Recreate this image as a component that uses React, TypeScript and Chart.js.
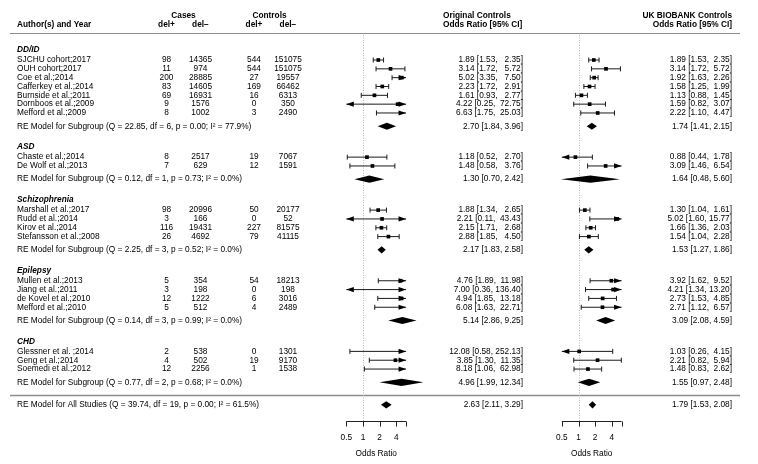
import React, { useEffect, useRef } from 'react';
import { Chart, registerables } from 'chart.js';

Chart.register(...registerables);

// ---------------- DATA ----------------
const groupNames = ['DD/ID', 'ASD', 'Schizophrenia', 'Epilepsy', 'CHD'];
const groupSizes = [7, 2, 4, 4, 3];

const studyNames = [
  'SJCHU cohort;2017', 'OUH cohort;2017', 'Coe et al.;2014', 'Cafferkey et al.;2014',
  'Burnside et al.;2011', 'Dornboos et al.;2009', 'Mefford et al.;2009',
  'Chaste et al.;2014', 'De Wolf et al.;2013',
  'Marshall et al.;2017', 'Rudd et al.;2014', 'Kirov et al.;2014', 'Stefansson et al.;2008',
  'Mullen et al.;2013', 'Jiang et al.;2011', 'de Kovel et al.;2010', 'Mefford et al.;2010',
  'Glessner et al. ;2014', 'Geng et al.;2014', 'Soemedi et al.;2012',
];
const casesPos = [98, 11, 200, 83, 69, 9, 8, 8, 7, 98, 3, 116, 26, 5, 3, 12, 5, 2, 4, 12];
const casesNeg = [14365, 974, 28885, 14605, 16931, 1576, 1002, 2517, 629, 20996, 166, 19431, 4692, 354, 198, 1222, 512, 538, 502, 2256];
const ctrlPos = [544, 544, 27, 169, 16, 0, 3, 19, 12, 50, 0, 227, 79, 54, 0, 6, 4, 0, 19, 1];
const ctrlNeg = [151075, 151075, 19557, 66462, 6313, 350, 2490, 7067, 1591, 20177, 52, 81575, 41115, 18213, 198, 3016, 2489, 1301, 9170, 1538];

const origOR = [1.89, 3.14, 5.02, 2.23, 1.61, 4.22, 6.63, 1.18, 1.48, 1.88, 2.21, 2.15, 2.88, 4.76, 7.0, 4.94, 6.08, 12.08, 3.85, 8.18];
const origLo = [1.53, 1.72, 3.35, 1.72, 0.93, 0.25, 1.75, 0.52, 0.58, 1.34, 0.11, 1.71, 1.85, 1.89, 0.36, 1.85, 1.63, 0.58, 1.3, 1.06];
const origHi = [2.35, 5.72, 7.5, 2.91, 2.77, 72.75, 25.03, 2.7, 3.76, 2.65, 43.43, 2.68, 4.5, 11.98, 136.4, 13.18, 22.71, 252.13, 11.35, 62.98];

const ukOR = [1.89, 3.14, 1.92, 1.58, 1.13, 1.59, 2.22, 0.88, 3.09, 1.3, 5.02, 1.66, 1.54, 3.92, 4.21, 2.73, 2.71, 1.03, 2.21, 1.48];
const ukLo = [1.53, 1.72, 1.63, 1.25, 0.88, 0.82, 1.1, 0.44, 1.46, 1.04, 1.6, 1.36, 1.04, 1.62, 1.34, 1.53, 1.12, 0.26, 0.82, 0.83];
const ukHi = [2.35, 5.72, 2.26, 1.99, 1.45, 3.07, 4.47, 1.78, 6.54, 1.61, 15.77, 2.03, 2.28, 9.52, 13.2, 4.85, 6.57, 4.15, 5.94, 2.62];

const origSubOR = [2.7, 1.3, 2.17, 5.14, 4.96];
const origSubLo = [1.84, 0.7, 1.83, 2.86, 1.99];
const origSubHi = [3.96, 2.42, 2.58, 9.25, 12.34];
const ukSubOR = [1.74, 1.64, 1.53, 3.09, 1.55];
const ukSubLo = [1.41, 0.48, 1.27, 2.08, 0.97];
const ukSubHi = [2.15, 5.6, 1.86, 4.59, 2.48];

const subQ = ['22.85', '0.12', '2.25', '0.14', '0.77'];
const subDf = ['6', '1', '3', '3', '2'];
const subP = ['0.00', '0.73', '0.52', '0.99', '0.68'];
const subI2 = ['77.9', '0.0', '0.0', '0.0', '0.0'];

const allOrig = [2.63, 2.11, 3.29];
const allUK = [1.79, 1.53, 2.08];
const allHet = ['39.74', '19', '0.00', '61.5'];

const axisTicks = [0.5, 1, 2, 4, 6];
const axisTickLabels = ['0.5', '1', '2', '4', ''];
const axisLimits = [0.5, 6];

// ---------------- LAYOUT ----------------
const W = 758;
const H = 464;
const L = {
  rowY0: 60,
  rowH: 8.83,
  nameX: 17,
  casesTitleX: 183.5,
  casePosX: 166.5,
  caseNegX: 200.5,
  ctrlTitleX: 269.5,
  ctrlPosX: 254,
  ctrlNegX: 288,
  origHeadLeft: 443,
  origTextRight: 523,
  ukTextRight: 732,
  lineX0: 10,
  lineX1: 740,
  head1Px: 15.5,
  head2Px: 24.5,
  topLinePx: 33.5,
  dotTopPx: 35,
  axisPx: 421,
  tickLen: 5,
  tickLabelPx: 437.5,
  axisTitlePx: 453.5,
  pxPerDoubling: 16.67,
  panelOne: [363, 578.5],
  whisker: 2.5,
  arrowLen: 7.5,
  arrowHalf: 2.6,
  diamondHalf: 3.6,
};
const FONT = '"Liberation Sans", Arial, Helvetica, sans-serif';
const FS = 8.3;

const rowOfPx = (px: number) => (px - L.rowY0) / L.rowH;

// rows
const groupStart: number[] = [];
{
  let s = 0;
  groupSizes.forEach((n) => {
    groupStart.push(s);
    s += n + 4;
  });
}
const studyRow: number[] = [];
groupSizes.forEach((n, g) => {
  for (let i = 0; i < n; i++) studyRow.push(groupStart[g] + i);
});
const subRow = groupSizes.map((n, g) => groupStart[g] + n + 0.5);
const headRow = groupStart.map((s) => s - 1.15);
const allLineRow = subRow[subRow.length - 1] + 1.5;
const allRow = allLineRow + 1.05;

const f2 = (v: number) => v.toFixed(2);
function ciStrings(est: number[], lo: number[], hi: number[]) {
  const loW = Math.max(...lo.map((v) => f2(v).length));
  const hiW = Math.max(...hi.map((v) => f2(v).length));
  return est.map((e, i) => `${f2(e)} [${f2(lo[i]).padStart(loW, ' ')}, ${f2(hi[i]).padStart(hiW, ' ')}]`);
}
const sumString = (e: number, lo: number, hi: number) => `${f2(e)} [${f2(lo)}, ${f2(hi)}]`;

const panels = [
  { axis: 'xo', est: origOR, lo: origLo, hi: origHi, sEst: origSubOR, sLo: origSubLo, sHi: origSubHi, all: allOrig },
  { axis: 'xu', est: ukOR, lo: ukLo, hi: ukHi, sEst: ukSubOR, sLo: ukSubLo, sHi: ukSubHi, all: allUK },
];

function logRange(onePx: number) {
  const min = Math.pow(2, -onePx / L.pxPerDoubling);
  const max = Math.pow(2, (W - onePx) / L.pxPerDoubling);
  return { min, max };
}

const forestPlugin = {
  id: 'forestPlugin',
  beforeDatasetsDraw(chart: any) {
    const ctx = chart.ctx as CanvasRenderingContext2D;
    const ys = chart.scales.y;
    const xp = chart.scales.xp;
    const Y = (r: number) => ys.getPixelForValue(r);
    const [a0, a1] = axisLimits;
    ctx.save();
    ctx.strokeStyle = '#8c8c8c';
    ctx.lineWidth = 1.2;
    ctx.beginPath();
    ctx.moveTo(xp.getPixelForValue(L.lineX0), Y(rowOfPx(L.topLinePx)));
    ctx.lineTo(xp.getPixelForValue(L.lineX1), Y(rowOfPx(L.topLinePx)));
    ctx.stroke();
    ctx.lineWidth = 1.6;
    ctx.beginPath();
    ctx.moveTo(xp.getPixelForValue(L.lineX0), Y(allLineRow));
    ctx.lineTo(xp.getPixelForValue(L.lineX1), Y(allLineRow));
    ctx.stroke();

    panels.forEach((p) => {
      const xs = chart.scales[p.axis];
      const X = (v: number) => xs.getPixelForValue(v);
      ctx.strokeStyle = '#b5b5b5';
      ctx.lineWidth = 1;
      ctx.setLineDash([1, 1.5]);
      ctx.beginPath();
      ctx.moveTo(Math.round(X(1)) + 0.5, Y(rowOfPx(L.dotTopPx)));
      ctx.lineTo(Math.round(X(1)) + 0.5, Y(rowOfPx(L.axisPx)));
      ctx.stroke();
      ctx.setLineDash([]);
      ctx.strokeStyle = '#1a1a1a';
      ctx.lineWidth = 1;
      p.lo.forEach((lo, i) => {
        const hi = p.hi[i];
        const y = Y(studyRow[i]);
        const l = Math.max(lo, a0);
        const r = Math.min(hi, a1);
        ctx.beginPath();
        ctx.moveTo(X(l), y);
        ctx.lineTo(X(r), y);
        if (lo >= a0) {
          ctx.moveTo(X(lo), y - L.whisker);
          ctx.lineTo(X(lo), y + L.whisker);
        }
        if (hi <= a1) {
          ctx.moveTo(X(hi), y - L.whisker);
          ctx.lineTo(X(hi), y + L.whisker);
        }
        ctx.stroke();
      });
      ctx.fillStyle = '#000';
      const diamond = (e: number, lo: number, hi: number, row: number) => {
        const y = Y(row);
        const dh = L.diamondHalf;
        ctx.beginPath();
        ctx.moveTo(X(lo), y);
        ctx.lineTo(X(e), y - dh);
        ctx.lineTo(X(hi), y);
        ctx.lineTo(X(e), y + dh);
        ctx.closePath();
        ctx.fill();
      };
      p.sEst.forEach((e, g) => diamond(e, p.sLo[g], p.sHi[g], subRow[g]));
      diamond(p.all[0], p.all[1], p.all[2], allRow);
      ctx.strokeStyle = '#222';
      ctx.lineWidth = 1;
      const ay = Math.round(Y(rowOfPx(L.axisPx))) + 0.5;
      ctx.beginPath();
      ctx.moveTo(X(a0), ay);
      ctx.lineTo(X(a1), ay);
      axisTicks.forEach((t) => {
        const tx = Math.round(X(t)) + 0.5;
        ctx.moveTo(tx, ay);
        ctx.lineTo(tx, ay + L.tickLen);
      });
      ctx.stroke();
      ctx.fillStyle = '#000';
      ctx.font = `${FS}px ${FONT}`;
      ctx.textAlign = 'center';
      ctx.textBaseline = 'middle';
      axisTicks.forEach((t, k) => {
        ctx.fillText(axisTickLabels[k], X(t), Y(rowOfPx(L.tickLabelPx)));
      });
      ctx.fillText('Odds Ratio', (X(a0) + X(a1)) / 2, Y(rowOfPx(L.axisTitlePx)));
    });
    ctx.restore();
  },
  afterDatasetsDraw(chart: any) {
    const ctx = chart.ctx as CanvasRenderingContext2D;
    const ys = chart.scales.y;
    const xp = chart.scales.xp;
    const Y = (r: number) => ys.getPixelForValue(r);
    const XP = (v: number) => xp.getPixelForValue(v);
    const [a0, a1] = axisLimits;
    ctx.save();
    ctx.fillStyle = '#000';
    panels.forEach((p) => {
      const xs = chart.scales[p.axis];
      const X = (v: number) => xs.getPixelForValue(v);
      p.lo.forEach((lo, i) => {
        const hi = p.hi[i];
        const y = Y(studyRow[i]);
        if (lo < a0) {
          const tx = X(a0);
          ctx.beginPath();
          ctx.moveTo(tx, y);
          ctx.lineTo(tx + L.arrowLen, y - L.arrowHalf);
          ctx.lineTo(tx + L.arrowLen, y + L.arrowHalf);
          ctx.closePath();
          ctx.fill();
        }
        if (hi > a1) {
          const tx = X(a1);
          ctx.beginPath();
          ctx.moveTo(tx, y);
          ctx.lineTo(tx - L.arrowLen, y - L.arrowHalf);
          ctx.lineTo(tx - L.arrowLen, y + L.arrowHalf);
          ctx.closePath();
          ctx.fill();
        }
      });
    });

    ctx.fillStyle = '#000';
    ctx.textBaseline = 'middle';
    const reg = `${FS}px ${FONT}`;
    const bold = `bold ${FS}px ${FONT}`;
    const bi = `italic bold ${FS}px ${FONT}`;
    const t = (s: string, x: number, row: number, align: CanvasTextAlign, font: string) => {
      ctx.font = font;
      ctx.textAlign = align;
      ctx.fillText(s, XP(x), Y(row));
    };
    const h1 = rowOfPx(L.head1Px);
    const h2 = rowOfPx(L.head2Px);
    t('Cases', L.casesTitleX, h1, 'center', bold);
    t('Controls', L.ctrlTitleX, h1, 'center', bold);
    t('Original Controls', L.origHeadLeft, h1, 'left', bold);
    t('UK BIOBANK Controls', L.ukTextRight, h1, 'right', bold);
    t('Author(s) and Year', L.nameX, h2, 'left', bold);
    t('del+', L.casePosX, h2, 'center', bold);
    t('del\u2212', L.caseNegX, h2, 'center', bold);
    t('del+', L.ctrlPosX, h2, 'center', bold);
    t('del\u2212', L.ctrlNegX, h2, 'center', bold);
    t('Odds Ratio [95% CI]', L.origHeadLeft, h2, 'left', bold);
    t('Odds Ratio [95% CI]', L.ukTextRight, h2, 'right', bold);

    const origStr = ciStrings(origOR, origLo, origHi);
    const ukStr = ciStrings(ukOR, ukLo, ukHi);
    groupNames.forEach((gName, g) => t(gName, L.nameX, headRow[g], 'left', bi));
    studyNames.forEach((nm, i) => {
      const r = studyRow[i];
      t(nm, L.nameX, r, 'left', reg);
      t(String(casesPos[i]), L.casePosX, r, 'center', reg);
      t(String(casesNeg[i]), L.caseNegX, r, 'center', reg);
      t(String(ctrlPos[i]), L.ctrlPosX, r, 'center', reg);
      t(String(ctrlNeg[i]), L.ctrlNegX, r, 'center', reg);
      t(origStr[i], L.origTextRight, r, 'right', reg);
      t(ukStr[i], L.ukTextRight, r, 'right', reg);
    });
    groupNames.forEach((_, g) => {
      const r = subRow[g];
      t(`RE Model for Subgroup (Q = ${subQ[g]}, df = ${subDf[g]}, p = ${subP[g]}; I\u00B2 = ${subI2[g]}%)`, L.nameX, r, 'left', reg);
      t(sumString(origSubOR[g], origSubLo[g], origSubHi[g]), L.origTextRight, r, 'right', reg);
      t(sumString(ukSubOR[g], ukSubLo[g], ukSubHi[g]), L.ukTextRight, r, 'right', reg);
    });
    t(`RE Model for All Studies (Q = ${allHet[0]}, df = ${allHet[1]}, p = ${allHet[2]}; I\u00B2 = ${allHet[3]}%)`, L.nameX, allRow, 'left', reg);
    t(sumString(allOrig[0], allOrig[1], allOrig[2]), L.origTextRight, allRow, 'right', reg);
    t(sumString(allUK[0], allUK[1], allUK[2]), L.ukTextRight, allRow, 'right', reg);
    ctx.restore();
  },
};

export default function App() {
  const ref = useRef<HTMLCanvasElement>(null);
  useEffect(() => {
    const canvas = ref.current;
    if (!canvas) return;
    const [a0, a1] = axisLimits;
    const inLim = (v: number) => v >= a0 && v <= a1;
    const pts = (est: number[]) =>
      est.map((e, i) => ({ x: e, y: studyRow[i] })).filter((d) => inLim(d.x));
    const r0 = logRange(L.panelOne[0]);
    const r1 = logRange(L.panelOne[1]);
    const chart = new Chart(canvas, {
      type: 'scatter',
      data: {
        datasets: [
          { label: 'Original Controls', data: pts(origOR), xAxisID: 'xo', yAxisID: 'y', pointStyle: 'rect', pointRadius: 2.6, pointHoverRadius: 0, backgroundColor: '#000', borderWidth: 0 },
          { label: 'UK BIOBANK Controls', data: pts(ukOR), xAxisID: 'xu', yAxisID: 'y', pointStyle: 'rect', pointRadius: 2.6, pointHoverRadius: 0, backgroundColor: '#000', borderWidth: 0 },
        ],
      },
      options: {
        responsive: false,
        animation: false,
        devicePixelRatio: 1,
        layout: { padding: 0, autoPadding: false },
        events: [],
        plugins: { legend: { display: false }, tooltip: { enabled: false } },
        scales: {
          y: { type: 'linear', axis: 'y', reverse: true, min: rowOfPx(0), max: rowOfPx(H), display: false },
          xo: { type: 'logarithmic', axis: 'x', min: r0.min, max: r0.max, bounds: 'data', display: false },
          xu: { type: 'logarithmic', axis: 'x', min: r1.min, max: r1.max, bounds: 'data', display: false },
          xp: { type: 'linear', axis: 'x', min: 0, max: W, display: false },
        },
      } as any,
      plugins: [forestPlugin as any],
    });
    return () => chart.destroy();
  }, []);
  return (
    <div style={{ position: 'absolute', left: 0, top: 0, width: W, height: H, background: '#fff' }}>
      <canvas ref={ref} width={W} height={H} style={{ display: 'block' }} />
    </div>
  );
}
